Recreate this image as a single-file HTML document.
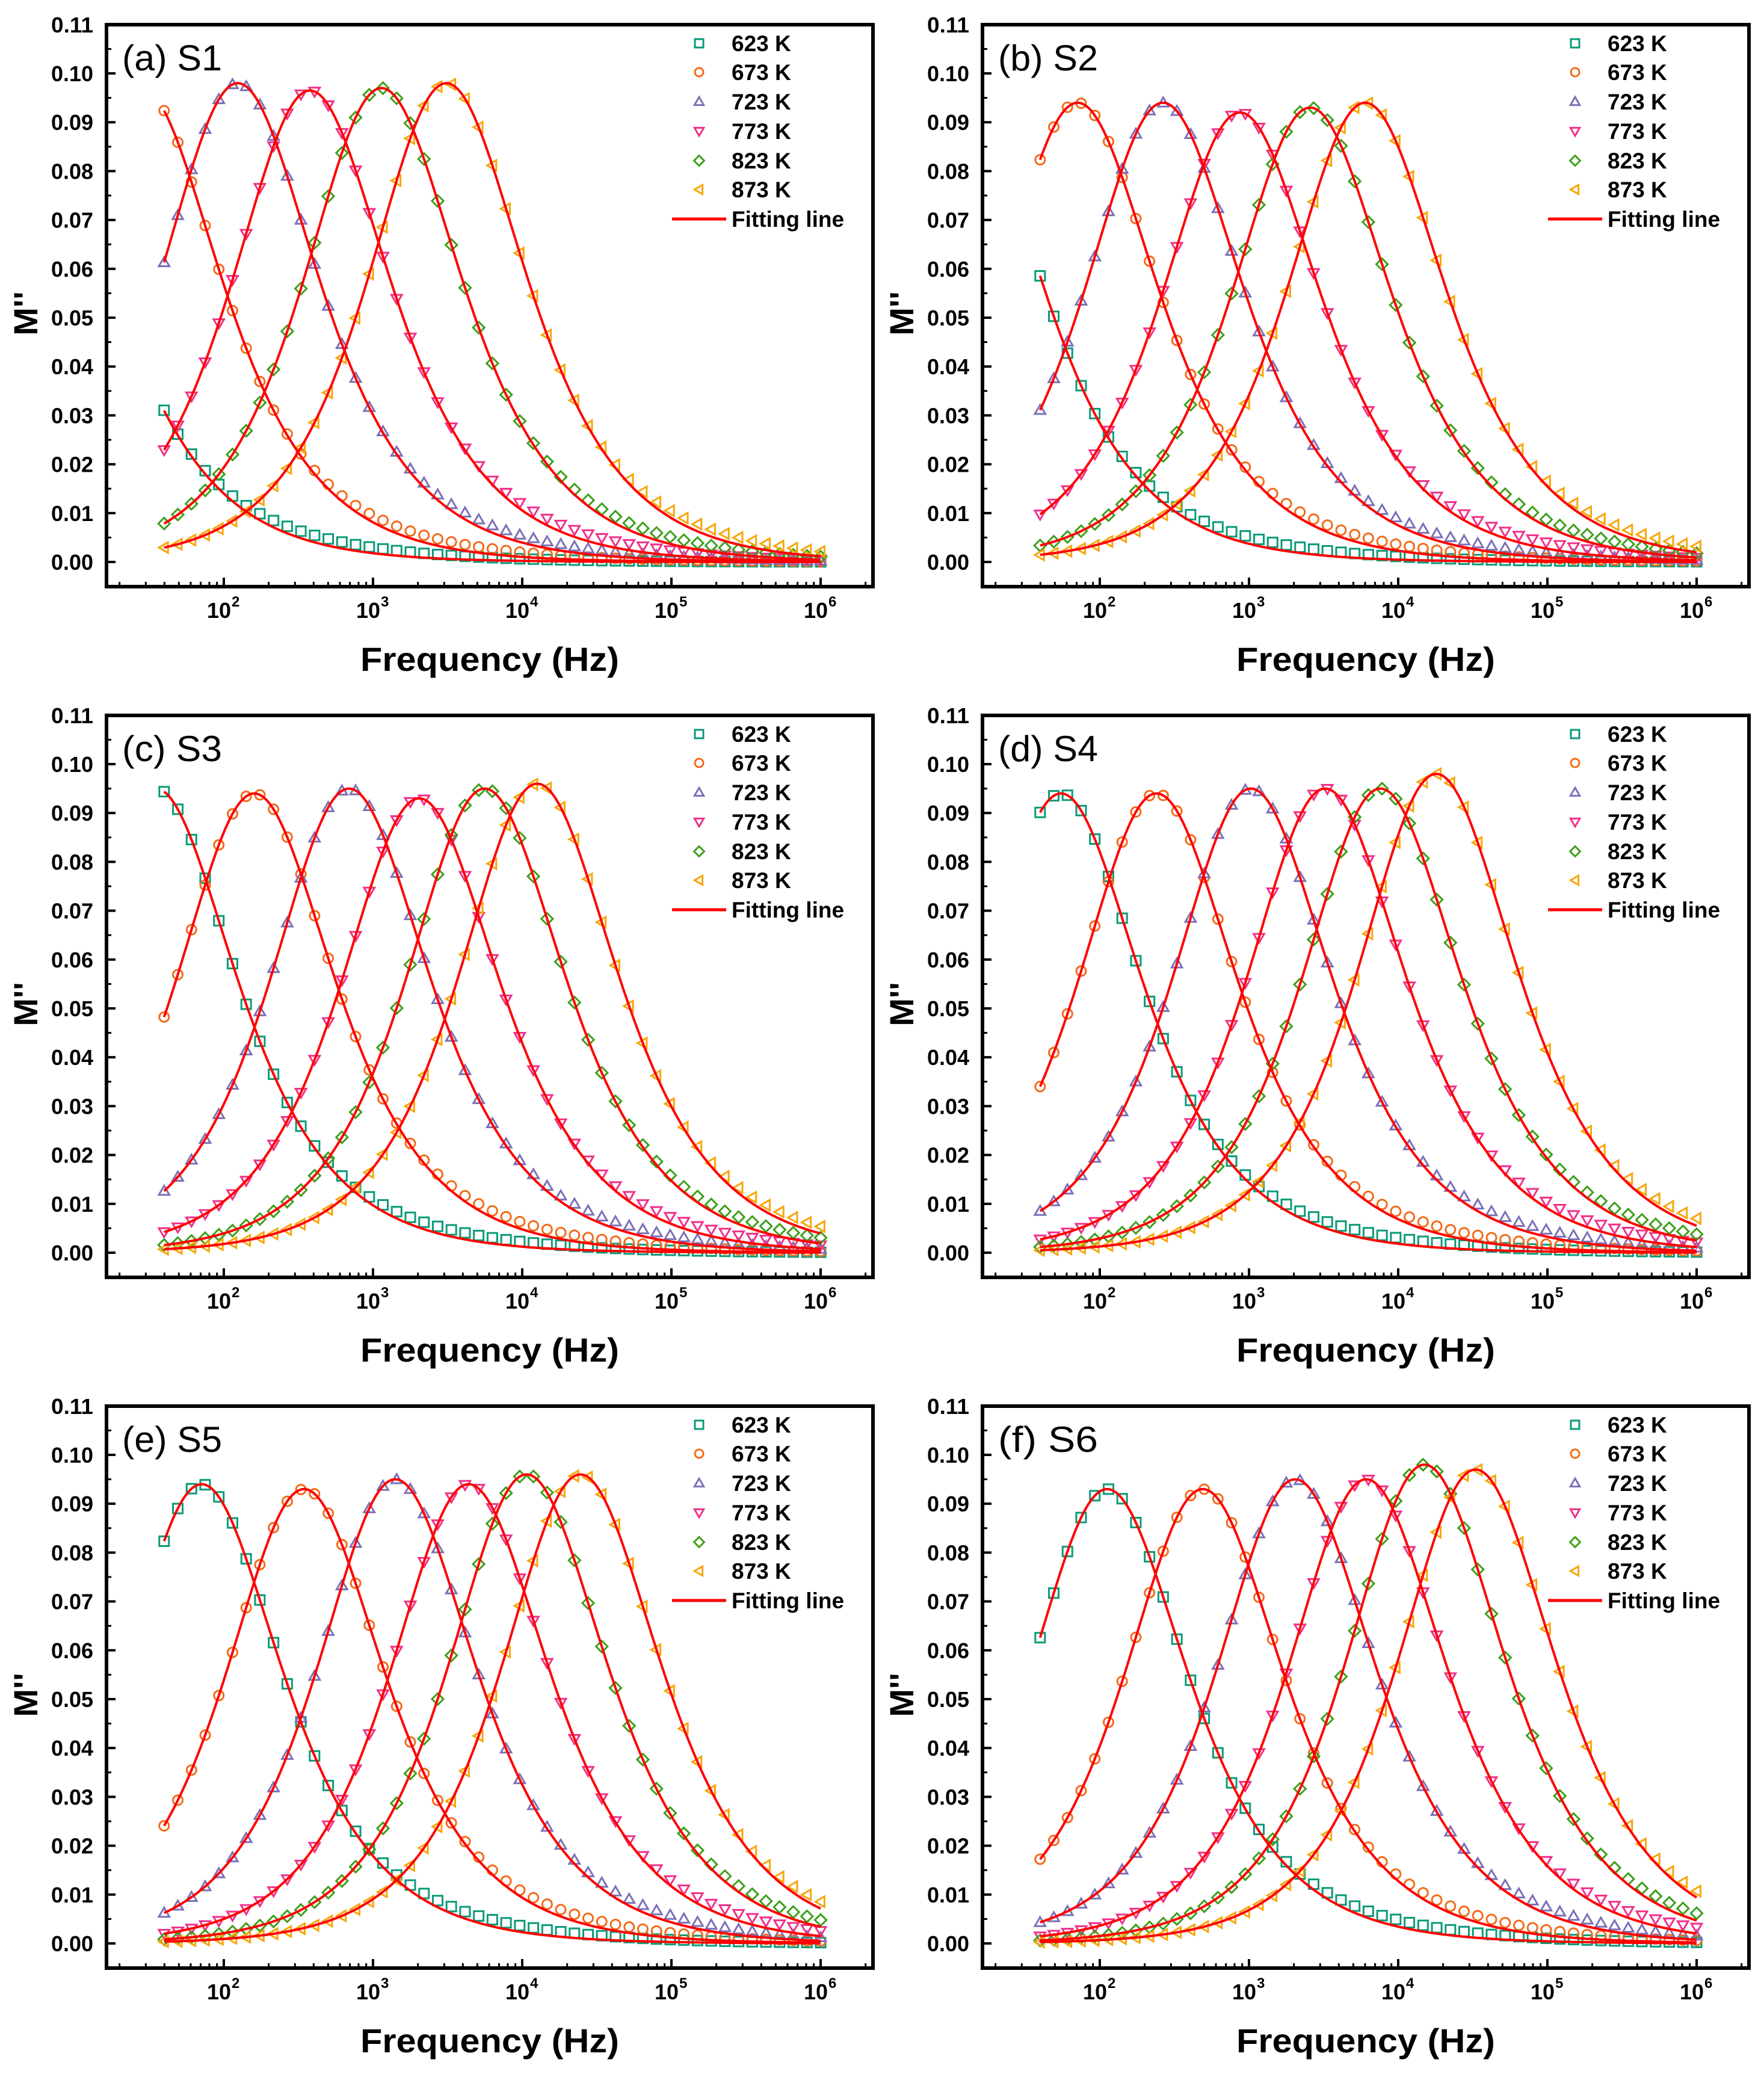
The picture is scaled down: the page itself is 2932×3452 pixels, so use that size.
<!DOCTYPE html>
<html><head><meta charset="utf-8">
<style>
html,body{margin:0;padding:0;background:#fff;}
svg{display:block;}
text{font-family:"Liberation Sans",Arial,sans-serif;}
</style></head>
<body>
<svg id="fig" xmlns="http://www.w3.org/2000/svg" width="2932" height="3452" viewBox="0 0 2932 3452"></svg>
<script>
// ---- data ----
const panelLabels = ["(a) S1","(b) S2","(c) S3","(d) S4","(e) S5","(f) S6"];
const temperatures = ["623 K","673 K","723 K","773 K","823 K","873 K"];
const yTicks = [0.00,0.01,0.02,0.03,0.04,0.05,0.06,0.07,0.08,0.09,0.10,0.11];
const yTickLabels = ["0.00","0.01","0.02","0.03","0.04","0.05","0.06","0.07","0.08","0.09","0.10","0.11"];
const xDecades = [2,3,4,5,6];
// peak frequency (Hz) of each temperature series per sample
const peakFreqS1 = [5.3, 28, 124, 378, 1140, 3100];
const peakFreqS2 = [12, 71, 265, 870, 2570, 6000];
const peakFreqS3 = [35, 160, 690, 2040, 5600, 12600];
const peakFreqS4 = [55, 240, 1030, 3240, 7600, 18000];
const peakFreqS5 = [71, 345, 1410, 4370, 10700, 24500];
const peakFreqS6 = [112, 490, 2040, 6100, 15000, 33000];
// peak height M''max of each series per sample
const peakMS1 = [0.095, 0.097, 0.098, 0.0965, 0.097, 0.098];
const peakMS2 = [0.095, 0.094, 0.094, 0.092, 0.093, 0.094];
const peakMS3 = [0.095, 0.094, 0.095, 0.093, 0.095, 0.096];
const peakMS4 = [0.094, 0.094, 0.095, 0.095, 0.095, 0.098];
const peakMS5 = [0.094, 0.093, 0.095, 0.094, 0.096, 0.096];
const peakMS6 = [0.093, 0.093, 0.095, 0.095, 0.098, 0.097];
const peakFreqs = [peakFreqS1,peakFreqS2,peakFreqS3,peakFreqS4,peakFreqS5,peakFreqS6];
const peakMs = [peakMS1,peakMS2,peakMS3,peakMS4,peakMS5,peakMS6];
const betaFit = 0.9;

// ---- layout ----
const NS="http://www.w3.org/2000/svg";
const svg=document.getElementById('fig');
const colors=["#0a9a78","#f26b1a","#7b70b8","#f0308a","#3ca01a","#f7a60a"];
const PL=177, PR=1451, PT=41, PB=975;
const Y0=934, YPER=81.2;
const X2=372, DEC=248;
function mk(tag,attrs,parent){const e=document.createElementNS(NS,tag);for(const k in attrs)e.setAttribute(k,attrs[k]);(parent||svg).appendChild(e);return e;}
function xs(f){return X2+(Math.log10(f)-2)*DEC;}
function ys(m){return Y0-m*100*YPER;}
function bergman(f,fm,M,b){const r=f/fm;return M/((1-b)+(b/(1+b))*(b/r+Math.pow(r,b)));}
function markerVal(f,fm,M){
  const v=bergman(f,fm,M,betaFit);
  const lr=Math.log10(f/fm);
  return lr>0.8? v*(1+0.3*(lr-0.8)*(lr-0.8)) : v;
}
const freqs=[];for(let i=0;i<=48;i++)freqs.push(Math.pow(10,1.6+i*4.4/48));

function marker(g,k,x,y,s){
  const st={fill:"none",stroke:colors[k],"stroke-width":3};
  let e;
  if(k===0)e=mk('rect',Object.assign({x:x-s,y:y-s,width:2*s,height:2*s},st),g);
  else if(k===1)e=mk('circle',Object.assign({cx:x,cy:y,r:s},st),g);
  else if(k===2)e=mk('polygon',Object.assign({points:`${x},${y-s*1.1} ${x-s*1.1},${y+s*0.8} ${x+s*1.1},${y+s*0.8}`},st),g);
  else if(k===3)e=mk('polygon',Object.assign({points:`${x},${y+s*1.1} ${x-s*1.1},${y-s*0.8} ${x+s*1.1},${y-s*0.8}`},st),g);
  else if(k===4)e=mk('polygon',Object.assign({points:`${x},${y-s*1.2} ${x+s*1.2},${y} ${x},${y+s*1.2} ${x-s*1.2},${y}`},st),g);
  else e=mk('polygon',Object.assign({points:`${x-s*1.1},${y} ${x+s*0.8},${y-s*1.1} ${x+s*0.8},${y+s*1.1}`},st),g);
  return e;
}

for(let p=0;p<6;p++){
  const dx=(p%2)*1456, dy=Math.floor(p/2)*1148;
  const g=mk('g',{transform:`translate(${dx},${dy})`});
  
  
  yTicks.forEach((v,i)=>{
    const y=ys(v);
    const t=mk('line',{x1:PL,x2:PL+15,y1:y,y2:y,stroke:"#000","stroke-width":4},g);
    
    
    if(i<yTicks.length-1){const yy=ys(v+0.005);mk('line',{x1:PL,x2:PL+8,y1:yy,y2:yy,stroke:"#000","stroke-width":3},g);}
    const l=mk('text',{x:155,y:y+13,"text-anchor":"end","font-size":36,"font-weight":"bold",textLength:70,lengthAdjust:"spacingAndGlyphs"},g);
    l.textContent=yTickLabels[i];
    
    
  });
  for(let d=1;d<=6;d++){
    for(let m=1;m<10;m++){
      const x=xs(m*Math.pow(10,d));
      if(x<PL+4||x>PR-4)continue;
      const len=m===1?15:8;
      mk('line',{x1:x,x2:x,y1:PB,y2:PB-len,stroke:"#000","stroke-width":m===1?4:3},g);
    }
  }
  xDecades.forEach(d=>{
    const x=xs(Math.pow(10,d));
    const t=mk('text',{x:x-8,y:1027,"text-anchor":"middle","font-size":36,"font-weight":"bold"},g);
    
    
    t.textContent="10";
    const s=mk('text',{x:x+13,y:1008,"font-size":24,"font-weight":"bold"},g);
    s.textContent=String(d);
  });
  const xt=mk('text',{x:814,y:1115,"text-anchor":"middle","font-size":56,"font-weight":"bold",textLength:430,lengthAdjust:"spacingAndGlyphs"},g);
  xt.textContent="Frequency (Hz)";
  
  
  const yt=mk('text',{x:0,y:0,"text-anchor":"middle","font-size":56,"font-weight":"bold",transform:"translate(62,521) rotate(-90)"},g);
  yt.textContent="M''";
  
  
  for(let k=0;k<6;k++){
    const fm=peakFreqs[p][k], M=peakMs[p][k];
    const sg=mk('g',{},g);
    
    
    freqs.forEach(f=>{
      const e=marker(sg,k,xs(f),ys(markerVal(f,fm,M)),8);
      
      
    });
  }
  for(let k=0;k<6;k++){
    const fm=peakFreqs[p][k], M=peakMs[p][k];
    let d="";
    for(let i=0;i<=300;i++){const f=Math.pow(10,1.6+i*4.4/300);d+=(i?"L":"M")+xs(f).toFixed(1)+","+ys(bergman(f,fm,M,betaFit)).toFixed(1);}
    const ln=mk('path',{d:d,fill:"none",stroke:"#ff0000","stroke-width":4},g);
    
    
  }
  const fr=mk('rect',{x:PL,y:PT,width:PR-PL,height:PB-PT,fill:"none",stroke:"#000","stroke-width":6},g);
  
  
  const pl=mk('text',{x:203,y:117,"font-size":60,textLength:166,lengthAdjust:"spacingAndGlyphs"},g);
  pl.textContent=panelLabels[p];
  
  
  const lg=mk('g',{},g);
  
  
  const rows=[72,120,169,218,267,315,364];
  for(let k=0;k<6;k++){
    marker(lg,k,1162,rows[k],7);
    const t=mk('text',{x:1216,y:rows[k]+13,"font-size":37,"font-weight":"bold"},lg);
    t.textContent=temperatures[k];
    
    
  }
  mk('line',{x1:1117,x2:1207,y1:rows[6],y2:rows[6],stroke:"#ff0000","stroke-width":5},lg);
  const ft=mk('text',{x:1216,y:rows[6]+13,"font-size":37,"font-weight":"bold"},lg);
  ft.textContent="Fitting line";
  
  
}
</script>
</body></html>
